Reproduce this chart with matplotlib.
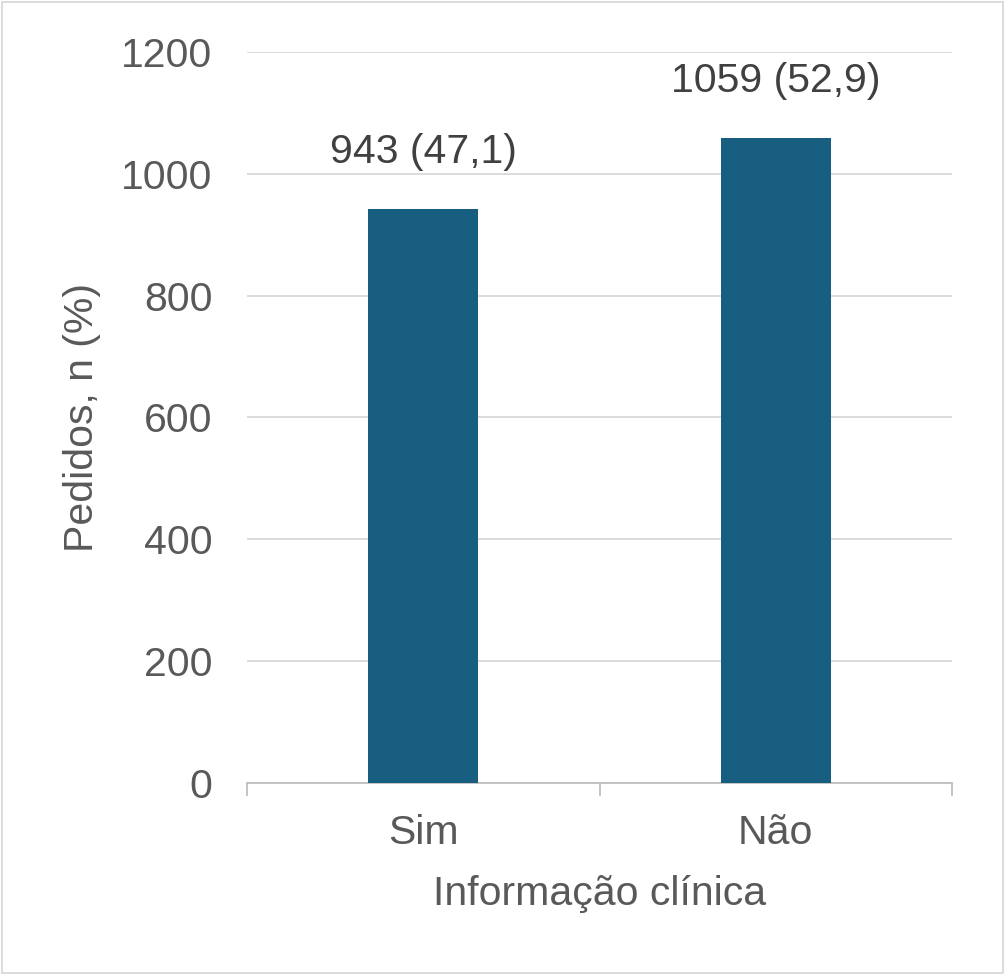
import matplotlib.pyplot as plt
from matplotlib.patches import Rectangle

categorias = ['Sim', 'Não']
pedidos = [943, 1059]
percentuais = ['47,1', '52,9']
yticks = [0, 200, 400, 600, 800, 1000, 1200]

plt.rcParams['font.family'] = ['Liberation Sans', 'DejaVu Sans']
cor_texto = '#595959'
cor_barra = '#175E81'
fs = 29.5

fig = plt.figure(figsize=(10.05, 9.75), dpi=100)
ax = fig.add_axes([247/1005, 1 - 783/975, (952-247)/1005, (783-52)/975])

x = list(range(len(categorias)))
ax.bar(x, pedidos, width=0.312, color=cor_barra, zorder=3)
for xi, n, p in zip(x, pedidos, percentuais):
    ax.annotate(f'{n} ({p})', (xi, n), xytext=(0, 27), textcoords='offset points',
                ha='center', va='bottom', fontsize=fs, color='#404040')

ax.set_xlim(-0.5, 1.5)
ax.set_ylim(0, 1200)
ax.set_yticks(yticks)
ax.set_yticklabels([str(t) for t in yticks])
ax.grid(axis='y', color='#D9D9D9', linewidth=1.3, zorder=0)
ax.set_xticks(x)
ax.set_xticklabels(categorias)
ax.set_xticks([-0.5, 0.5, 1.5], minor=True)

for s in ['top', 'right', 'left']:
    ax.spines[s].set_visible(False)
ax.spines['bottom'].set_color('#BFBFBF')
ax.spines['bottom'].set_linewidth(1.3)
ax.tick_params(axis='y', length=0, pad=25, labelsize=fs, labelcolor=cor_texto)
ax.tick_params(axis='x', which='major', length=0, pad=22, labelsize=fs, labelcolor=cor_texto)
ax.tick_params(axis='x', which='minor', length=9, width=1.3, color='#BFBFBF')

ax.set_xlabel('Informação clínica', fontsize=fs, color=cor_texto, labelpad=17)
ax.set_ylabel('Pedidos, n (%)', fontsize=fs, color=cor_texto, labelpad=14)

fig.patches.append(Rectangle((0.002, 0.002), 0.996, 0.996, transform=fig.transFigure,
                             fill=False, edgecolor='#D9D9D9', linewidth=1.3))

fig.savefig('out.png', dpi=100)
